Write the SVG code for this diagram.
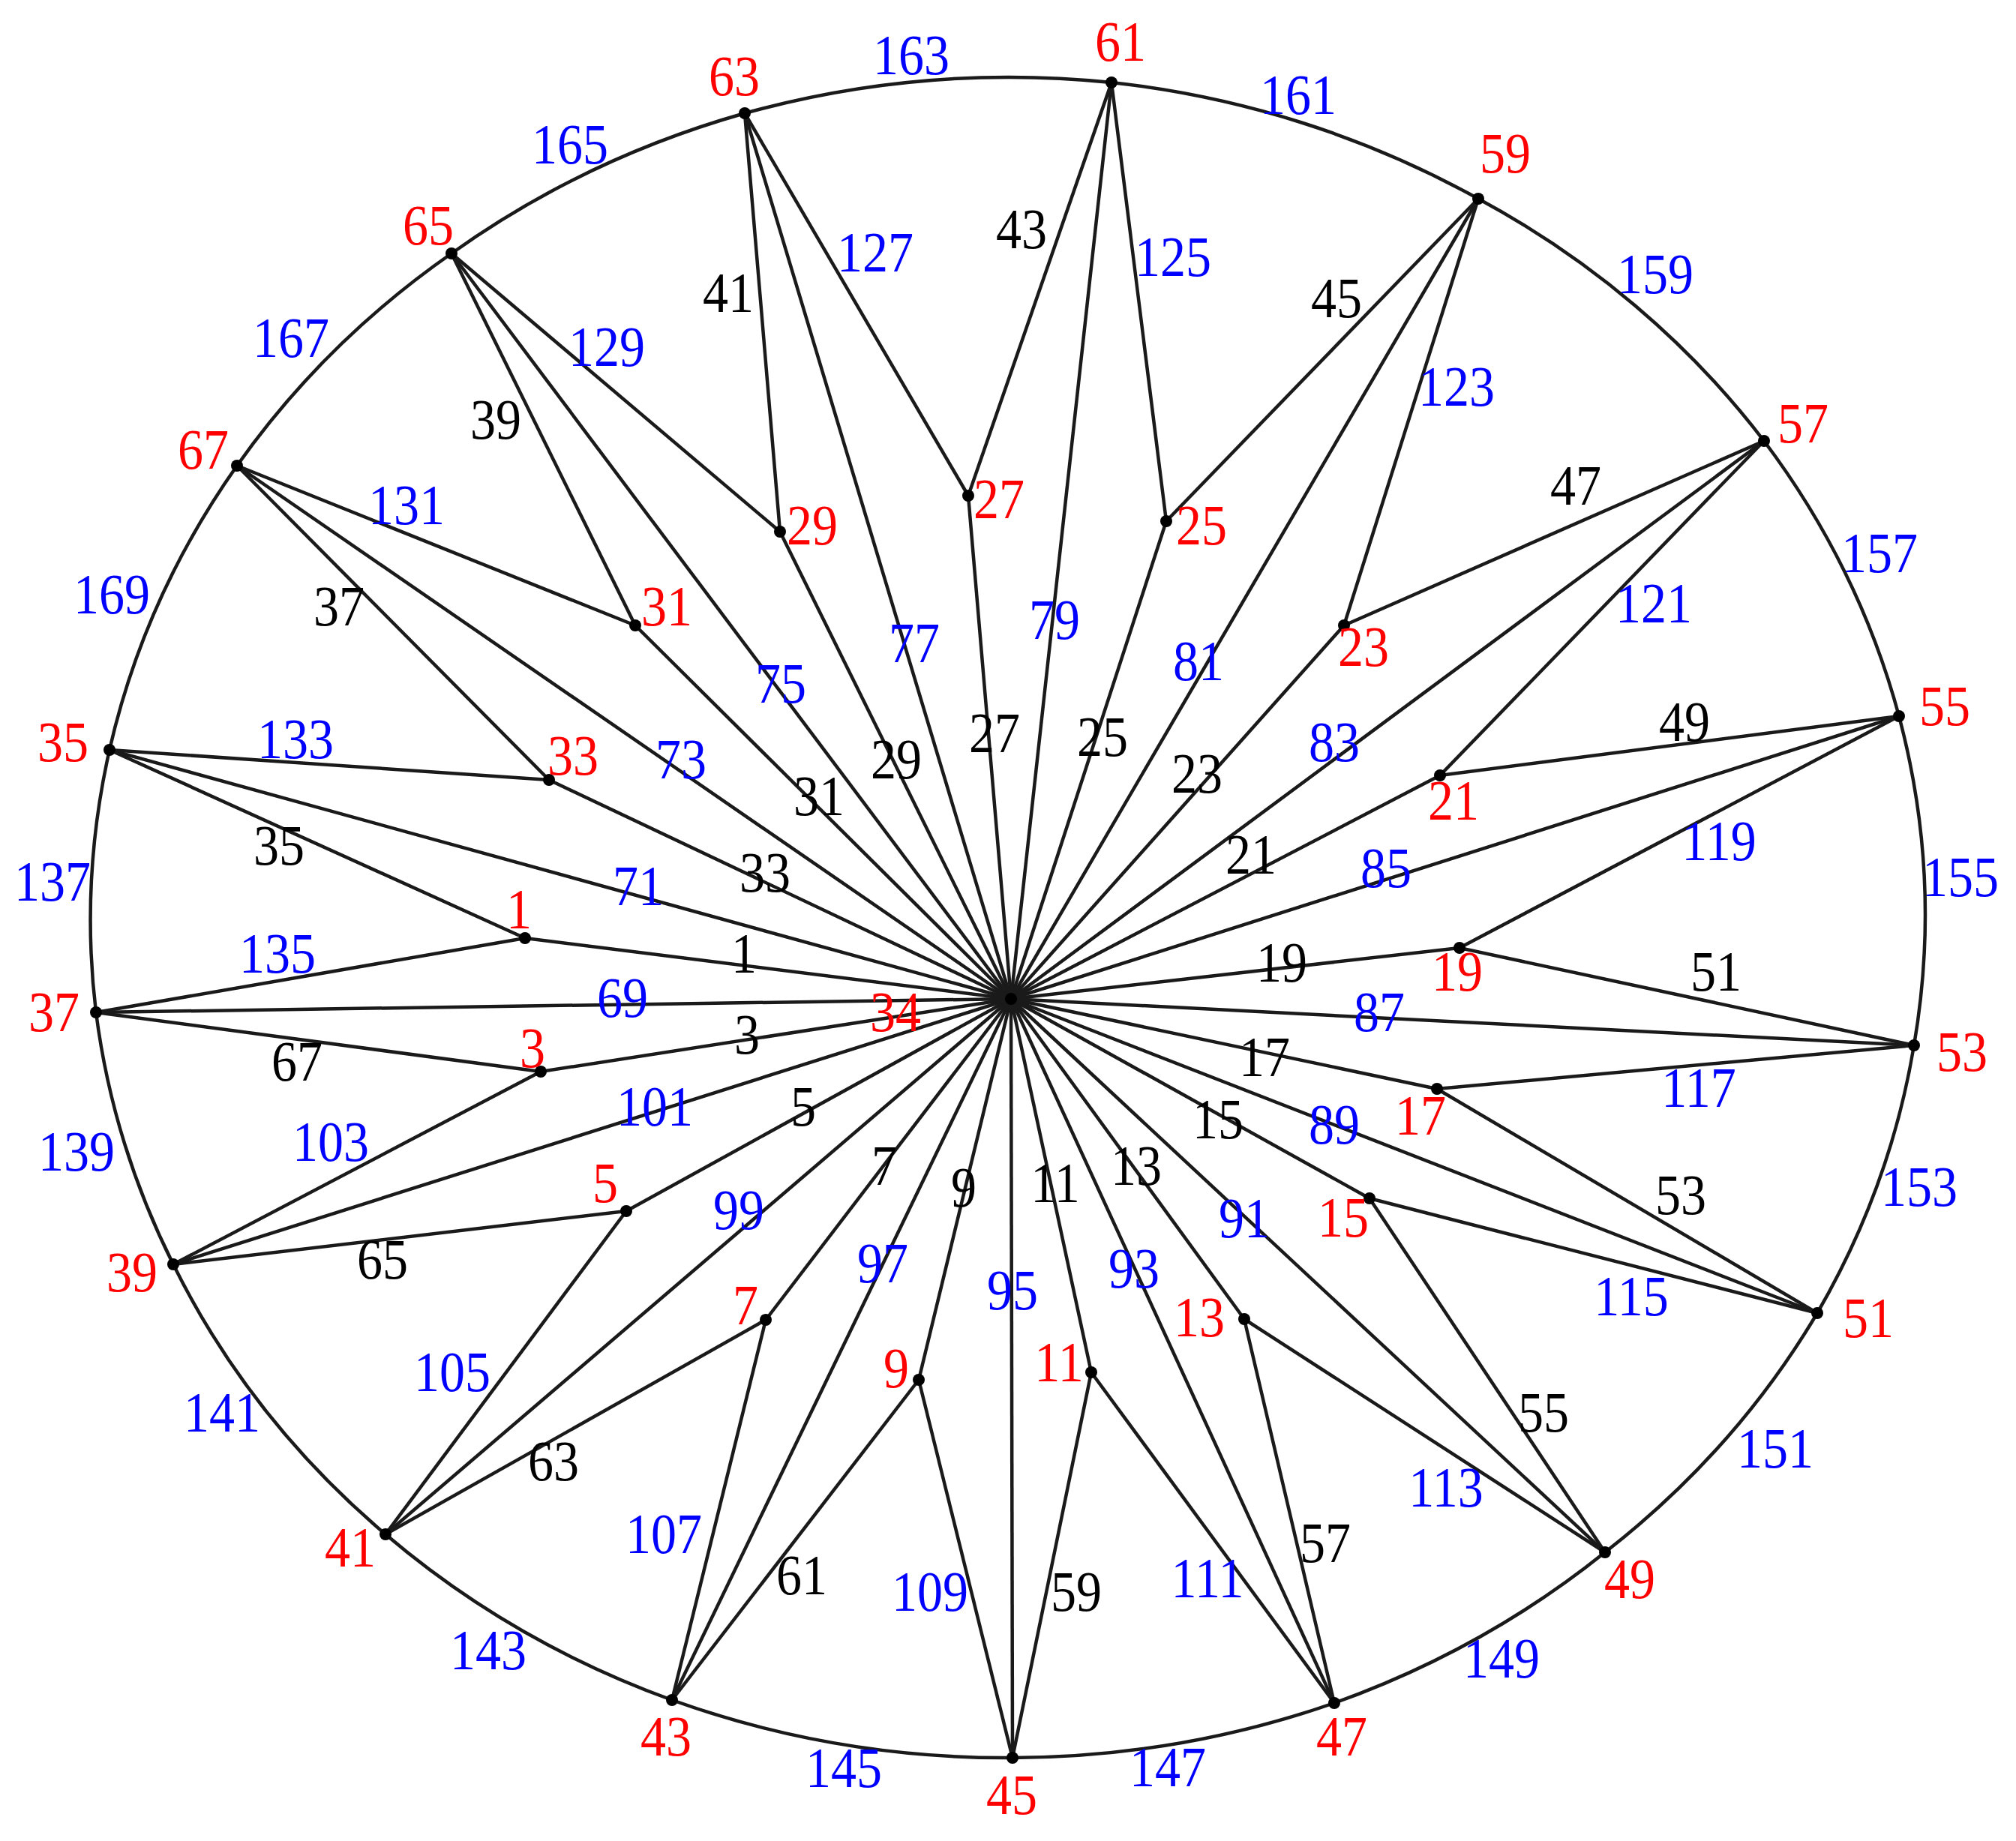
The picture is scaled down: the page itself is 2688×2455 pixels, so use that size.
<svg xmlns="http://www.w3.org/2000/svg" width="2688" height="2455" viewBox="0 0 2688 2455">
<style>
text{font-family:"Liberation Serif","Times New Roman",serif;font-size:68px;text-anchor:middle}
.r{fill:#ff0000}.b{fill:#0000ff}.k{fill:#000000}
#edges line,#edges path{stroke:#1a1a1a;stroke-width:4.5;fill:none}
circle{fill:#000}
</style>
<rect width="2688" height="2455" fill="#fff"/>
<g id="edges">
<line x1="1348" y1="1332" x2="700" y2="1251"/>
<line x1="1348" y1="1332" x2="721" y2="1429"/>
<line x1="1348" y1="1332" x2="835" y2="1615"/>
<line x1="1348" y1="1332" x2="1021" y2="1760"/>
<line x1="1348" y1="1332" x2="1225" y2="1840"/>
<line x1="1348" y1="1332" x2="1455" y2="1830"/>
<line x1="1348" y1="1332" x2="1659" y2="1759"/>
<line x1="1348" y1="1332" x2="1826" y2="1598"/>
<line x1="1348" y1="1332" x2="1916" y2="1452"/>
<line x1="1348" y1="1332" x2="1946" y2="1264"/>
<line x1="1348" y1="1332" x2="1920" y2="1034"/>
<line x1="1348" y1="1332" x2="1792" y2="834"/>
<line x1="1348" y1="1332" x2="1555" y2="695"/>
<line x1="1348" y1="1332" x2="1291" y2="661"/>
<line x1="1348" y1="1332" x2="1040" y2="709"/>
<line x1="1348" y1="1332" x2="847" y2="834"/>
<line x1="1348" y1="1332" x2="732" y2="1040"/>
<line x1="1348" y1="1332" x2="128" y2="1350"/>
<line x1="1348" y1="1332" x2="146" y2="1000"/>
<line x1="1348" y1="1332" x2="316" y2="621"/>
<line x1="1348" y1="1332" x2="602" y2="338"/>
<line x1="1348" y1="1332" x2="993" y2="151"/>
<line x1="1348" y1="1332" x2="1482" y2="110"/>
<line x1="1348" y1="1332" x2="1971" y2="265"/>
<line x1="1348" y1="1332" x2="2352" y2="588"/>
<line x1="1348" y1="1332" x2="2532" y2="955"/>
<line x1="1348" y1="1332" x2="2552" y2="1394"/>
<line x1="1348" y1="1332" x2="2423" y2="1751"/>
<line x1="1348" y1="1332" x2="2140" y2="2070"/>
<line x1="1348" y1="1332" x2="1779" y2="2271"/>
<line x1="1348" y1="1332" x2="1350" y2="2344"/>
<line x1="1348" y1="1332" x2="896" y2="2267"/>
<line x1="1348" y1="1332" x2="514" y2="2046"/>
<line x1="1348" y1="1332" x2="231" y2="1686"/>
<line x1="700" y1="1251" x2="146" y2="1000"/>
<line x1="700" y1="1251" x2="128" y2="1350"/>
<line x1="721" y1="1429" x2="128" y2="1350"/>
<line x1="721" y1="1429" x2="231" y2="1686"/>
<line x1="835" y1="1615" x2="231" y2="1686"/>
<line x1="835" y1="1615" x2="514" y2="2046"/>
<line x1="1021" y1="1760" x2="514" y2="2046"/>
<line x1="1021" y1="1760" x2="896" y2="2267"/>
<line x1="1225" y1="1840" x2="896" y2="2267"/>
<line x1="1225" y1="1840" x2="1350" y2="2344"/>
<line x1="1455" y1="1830" x2="1350" y2="2344"/>
<line x1="1455" y1="1830" x2="1779" y2="2271"/>
<line x1="1659" y1="1759" x2="1779" y2="2271"/>
<line x1="1659" y1="1759" x2="2140" y2="2070"/>
<line x1="1826" y1="1598" x2="2140" y2="2070"/>
<line x1="1826" y1="1598" x2="2423" y2="1751"/>
<line x1="1916" y1="1452" x2="2423" y2="1751"/>
<line x1="1916" y1="1452" x2="2552" y2="1394"/>
<line x1="1946" y1="1264" x2="2552" y2="1394"/>
<line x1="1946" y1="1264" x2="2532" y2="955"/>
<line x1="1920" y1="1034" x2="2532" y2="955"/>
<line x1="1920" y1="1034" x2="2352" y2="588"/>
<line x1="1792" y1="834" x2="2352" y2="588"/>
<line x1="1792" y1="834" x2="1971" y2="265"/>
<line x1="1555" y1="695" x2="1971" y2="265"/>
<line x1="1555" y1="695" x2="1482" y2="110"/>
<line x1="1291" y1="661" x2="1482" y2="110"/>
<line x1="1291" y1="661" x2="993" y2="151"/>
<line x1="1040" y1="709" x2="993" y2="151"/>
<line x1="1040" y1="709" x2="602" y2="338"/>
<line x1="847" y1="834" x2="602" y2="338"/>
<line x1="847" y1="834" x2="316" y2="621"/>
<line x1="732" y1="1040" x2="316" y2="621"/>
<line x1="732" y1="1040" x2="146" y2="1000"/>
<path d="M146 1000A1222 1120 0 0 0 128 1350"/>
<path d="M128 1350A1222 1120 0 0 0 231 1686"/>
<path d="M231 1686A1222 1120 0 0 0 514 2046"/>
<path d="M514 2046A1222 1120 0 0 0 896 2267"/>
<path d="M896 2267A1222 1120 0 0 0 1350 2344"/>
<path d="M1350 2344A1222 1120 0 0 0 1779 2271"/>
<path d="M1779 2271A1222 1120 0 0 0 2140 2070"/>
<path d="M2140 2070A1222 1120 0 0 0 2423 1751"/>
<path d="M2423 1751A1222 1120 0 0 0 2552 1394"/>
<path d="M2552 1394A1222 1120 0 0 0 2532 955"/>
<path d="M2532 955A1222 1120 0 0 0 2352 588"/>
<path d="M2352 588A1222 1120 0 0 0 1971 265"/>
<path d="M1971 265A1222 1120 0 0 0 1482 110"/>
<path d="M1482 110A1222 1120 0 0 0 993 151"/>
<path d="M993 151A1222 1120 0 0 0 602 338"/>
<path d="M602 338A1222 1120 0 0 0 316 621"/>
<path d="M316 621A1222 1120 0 0 0 146 1000"/>
</g>
<g id="edge-labels">
<text class="k" transform="translate(992 1297) scale(1 1.13)">1</text>
<text class="k" transform="translate(996 1405) scale(1 1.13)">3</text>
<text class="k" transform="translate(1071 1501) scale(1 1.13)">5</text>
<text class="k" transform="translate(1179 1580) scale(1 1.13)">7</text>
<text class="k" transform="translate(1285 1609) scale(1 1.13)">9</text>
<text class="k" transform="translate(1407 1603) scale(1 1.13)">11</text>
<text class="k" transform="translate(1515 1580) scale(1 1.13)">13</text>
<text class="k" transform="translate(1624 1518) scale(1 1.13)">15</text>
<text class="k" transform="translate(1686 1435) scale(1 1.13)">17</text>
<text class="k" transform="translate(1709 1309) scale(1 1.13)">19</text>
<text class="k" transform="translate(1668 1165) scale(1 1.13)">21</text>
<text class="k" transform="translate(1596 1057) scale(1 1.13)">23</text>
<text class="k" transform="translate(1470 1008) scale(1 1.13)">25</text>
<text class="k" transform="translate(1326 1003) scale(1 1.13)">27</text>
<text class="k" transform="translate(1195 1038) scale(1 1.13)">29</text>
<text class="k" transform="translate(1092 1087) scale(1 1.13)">31</text>
<text class="k" transform="translate(1020 1189) scale(1 1.13)">33</text>
<text class="k" transform="translate(372 1153) scale(1 1.13)">35</text>
<text class="k" transform="translate(452 834) scale(1 1.13)">37</text>
<text class="k" transform="translate(661 585) scale(1 1.13)">39</text>
<text class="k" transform="translate(971 416) scale(1 1.13)">41</text>
<text class="k" transform="translate(1362 331) scale(1 1.13)">43</text>
<text class="k" transform="translate(1782 423) scale(1 1.13)">45</text>
<text class="k" transform="translate(2101 673) scale(1 1.13)">47</text>
<text class="k" transform="translate(2246 988) scale(1 1.13)">49</text>
<text class="k" transform="translate(2288 1321) scale(1 1.13)">51</text>
<text class="k" transform="translate(2241 1619) scale(1 1.13)">53</text>
<text class="k" transform="translate(2058 1909) scale(1 1.13)">55</text>
<text class="k" transform="translate(1767 2083) scale(1 1.13)">57</text>
<text class="k" transform="translate(1435 2148) scale(1 1.13)">59</text>
<text class="k" transform="translate(1069 2126) scale(1 1.13)">61</text>
<text class="k" transform="translate(738 1974) scale(1 1.13)">63</text>
<text class="k" transform="translate(510 1705) scale(1 1.13)">65</text>
<text class="k" transform="translate(396 1441) scale(1 1.13)">67</text>
<text class="b" transform="translate(830 1356) scale(1 1.13)">69</text>
<text class="b" transform="translate(851 1207) scale(1 1.13)">71</text>
<text class="b" transform="translate(908 1038) scale(1 1.13)">73</text>
<text class="b" transform="translate(1041 937) scale(1 1.13)">75</text>
<text class="b" transform="translate(1219 883) scale(1 1.13)">77</text>
<text class="b" transform="translate(1406 852) scale(1 1.13)">79</text>
<text class="b" transform="translate(1598 907) scale(1 1.13)">81</text>
<text class="b" transform="translate(1779 1015) scale(1 1.13)">83</text>
<text class="b" transform="translate(1848 1183) scale(1 1.13)">85</text>
<text class="b" transform="translate(1839 1375) scale(1 1.13)">87</text>
<text class="b" transform="translate(1779 1525) scale(1 1.13)">89</text>
<text class="b" transform="translate(1659 1650) scale(1 1.13)">91</text>
<text class="b" transform="translate(1512 1717) scale(1 1.13)">93</text>
<text class="b" transform="translate(1350 1746) scale(1 1.13)">95</text>
<text class="b" transform="translate(1177 1710) scale(1 1.13)">97</text>
<text class="b" transform="translate(985 1639) scale(1 1.13)">99</text>
<text class="b" transform="translate(873 1501) scale(1 1.13)">101</text>
<text class="b" transform="translate(441 1548) scale(1 1.13)">103</text>
<text class="b" transform="translate(603 1855) scale(1 1.13)">105</text>
<text class="b" transform="translate(885 2071) scale(1 1.13)">107</text>
<text class="b" transform="translate(1240 2148) scale(1 1.13)">109</text>
<text class="b" transform="translate(1610 2130) scale(1 1.13)">111</text>
<text class="b" transform="translate(1928 2009) scale(1 1.13)">113</text>
<text class="b" transform="translate(2175 1754) scale(1 1.13)">115</text>
<text class="b" transform="translate(2265 1476) scale(1 1.13)">117</text>
<text class="b" transform="translate(2292 1147) scale(1 1.13)">119</text>
<text class="b" transform="translate(2205 830) scale(1 1.13)">121</text>
<text class="b" transform="translate(1942 541) scale(1 1.13)">123</text>
<text class="b" transform="translate(1564 368) scale(1 1.13)">125</text>
<text class="b" transform="translate(1167 362) scale(1 1.13)">127</text>
<text class="b" transform="translate(809 488) scale(1 1.13)">129</text>
<text class="b" transform="translate(542 699) scale(1 1.13)">131</text>
<text class="b" transform="translate(394 1011) scale(1 1.13)">133</text>
<text class="b" transform="translate(370 1297) scale(1 1.13)">135</text>
<text class="b" transform="translate(70 1201) scale(1 1.13)">137</text>
<text class="b" transform="translate(102 1561) scale(1 1.13)">139</text>
<text class="b" transform="translate(296 1909) scale(1 1.13)">141</text>
<text class="b" transform="translate(651 2226) scale(1 1.13)">143</text>
<text class="b" transform="translate(1125 2383) scale(1 1.13)">145</text>
<text class="b" transform="translate(1557 2382) scale(1 1.13)">147</text>
<text class="b" transform="translate(2002 2237) scale(1 1.13)">149</text>
<text class="b" transform="translate(2367 1957) scale(1 1.13)">151</text>
<text class="b" transform="translate(2559 1608) scale(1 1.13)">153</text>
<text class="b" transform="translate(2614 1195) scale(1 1.13)">155</text>
<text class="b" transform="translate(2506 763) scale(1 1.13)">157</text>
<text class="b" transform="translate(2207 391) scale(1 1.13)">159</text>
<text class="b" transform="translate(1731 152) scale(1 1.13)">161</text>
<text class="b" transform="translate(1215 99) scale(1 1.13)">163</text>
<text class="b" transform="translate(760 218) scale(1 1.13)">165</text>
<text class="b" transform="translate(388 476) scale(1 1.13)">167</text>
<text class="b" transform="translate(149 818) scale(1 1.13)">169</text>
</g>
<g id="n1"><circle cx="700" cy="1251" r="8"/><text class="r" transform="translate(692 1238) scale(1 1.13)">1</text></g>
<g id="n3"><circle cx="721" cy="1429" r="8"/><text class="r" transform="translate(710 1423) scale(1 1.13)">3</text></g>
<g id="n5"><circle cx="835" cy="1615" r="8"/><text class="r" transform="translate(807 1603) scale(1 1.13)">5</text></g>
<g id="n7"><circle cx="1021" cy="1760" r="8"/><text class="r" transform="translate(994 1766) scale(1 1.13)">7</text></g>
<g id="n9"><circle cx="1225" cy="1840" r="8"/><text class="r" transform="translate(1195 1850) scale(1 1.13)">9</text></g>
<g id="n11"><circle cx="1455" cy="1830" r="8"/><text class="r" transform="translate(1412 1842) scale(1 1.13)">11</text></g>
<g id="n13"><circle cx="1659" cy="1759" r="8"/><text class="r" transform="translate(1599 1782) scale(1 1.13)">13</text></g>
<g id="n15"><circle cx="1826" cy="1598" r="8"/><text class="r" transform="translate(1791 1649) scale(1 1.13)">15</text></g>
<g id="n17"><circle cx="1916" cy="1452" r="8"/><text class="r" transform="translate(1894 1513) scale(1 1.13)">17</text></g>
<g id="n19"><circle cx="1946" cy="1264" r="8"/><text class="r" transform="translate(1943 1321) scale(1 1.13)">19</text></g>
<g id="n21"><circle cx="1920" cy="1034" r="8"/><text class="r" transform="translate(1938 1093) scale(1 1.13)">21</text></g>
<g id="n23"><circle cx="1792" cy="834" r="8"/><text class="r" transform="translate(1818 888) scale(1 1.13)">23</text></g>
<g id="n25"><circle cx="1555" cy="695" r="8"/><text class="r" transform="translate(1602 726) scale(1 1.13)">25</text></g>
<g id="n27"><circle cx="1291" cy="661" r="8"/><text class="r" transform="translate(1332 691) scale(1 1.13)">27</text></g>
<g id="n29"><circle cx="1040" cy="709" r="8"/><text class="r" transform="translate(1083 726) scale(1 1.13)">29</text></g>
<g id="n31"><circle cx="847" cy="834" r="8"/><text class="r" transform="translate(889 834) scale(1 1.13)">31</text></g>
<g id="n33"><circle cx="732" cy="1040" r="8"/><text class="r" transform="translate(764 1033) scale(1 1.13)">33</text></g>
<g id="n34"><circle cx="1348" cy="1332" r="8"/><text class="r" transform="translate(1194 1375) scale(1 1.13)">34</text></g>
<g id="n35"><circle cx="146" cy="1000" r="8"/><text class="r" transform="translate(84 1015) scale(1 1.13)">35</text></g>
<g id="n37"><circle cx="128" cy="1350" r="8"/><text class="r" transform="translate(72 1375) scale(1 1.13)">37</text></g>
<g id="n39"><circle cx="231" cy="1686" r="8"/><text class="r" transform="translate(176 1722) scale(1 1.13)">39</text></g>
<g id="n41"><circle cx="514" cy="2046" r="8"/><text class="r" transform="translate(467 2089) scale(1 1.13)">41</text></g>
<g id="n43"><circle cx="896" cy="2267" r="8"/><text class="r" transform="translate(888 2341) scale(1 1.13)">43</text></g>
<g id="n45"><circle cx="1350" cy="2344" r="8"/><text class="r" transform="translate(1349 2419) scale(1 1.13)">45</text></g>
<g id="n47"><circle cx="1779" cy="2271" r="8"/><text class="r" transform="translate(1789 2341) scale(1 1.13)">47</text></g>
<g id="n49"><circle cx="2140" cy="2070" r="8"/><text class="r" transform="translate(2173 2131) scale(1 1.13)">49</text></g>
<g id="n51"><circle cx="2423" cy="1751" r="8"/><text class="r" transform="translate(2491 1783) scale(1 1.13)">51</text></g>
<g id="n53"><circle cx="2552" cy="1394" r="8"/><text class="r" transform="translate(2616 1428) scale(1 1.13)">53</text></g>
<g id="n55"><circle cx="2532" cy="955" r="8"/><text class="r" transform="translate(2593 967) scale(1 1.13)">55</text></g>
<g id="n57"><circle cx="2352" cy="588" r="8"/><text class="r" transform="translate(2404 590) scale(1 1.13)">57</text></g>
<g id="n59"><circle cx="1971" cy="265" r="8"/><text class="r" transform="translate(2007 230) scale(1 1.13)">59</text></g>
<g id="n61"><circle cx="1482" cy="110" r="8"/><text class="r" transform="translate(1494 81) scale(1 1.13)">61</text></g>
<g id="n63"><circle cx="993" cy="151" r="8"/><text class="r" transform="translate(979 127) scale(1 1.13)">63</text></g>
<g id="n65"><circle cx="602" cy="338" r="8"/><text class="r" transform="translate(571 326) scale(1 1.13)">65</text></g>
<g id="n67"><circle cx="316" cy="621" r="8"/><text class="r" transform="translate(271 625) scale(1 1.13)">67</text></g>
</svg>
